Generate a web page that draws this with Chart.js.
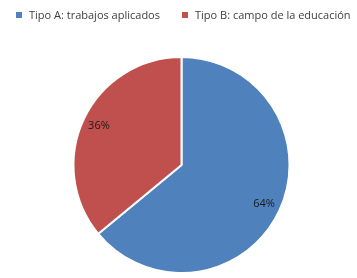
<!DOCTYPE html>
<html>
<head>
<meta charset="utf-8">
<script src="https://cdn.jsdelivr.net/npm/chart.js@4.4.1/dist/chart.umd.min.js"></script>
<style>
  html, body { margin: 0; padding: 0; background: #fff; }
  #wrap { position: relative; width: 357px; height: 278px; overflow: hidden; }
  #legend { position: absolute; left: 16px; top: 8px; display: flex; align-items: center;
            font: 11px 'Open Sans', sans-serif; line-height: 14px; color: #404040; white-space: nowrap; }
  #legend .item { display: flex; align-items: center; margin-right: 22px; }
  #legend .box { width: 6px; height: 6px; margin-right: 7px; }
</style>
</head>
<body>
<div id="wrap">
  <canvas id="pieChart" width="357" height="278"></canvas>
  <div id="legend"></div>
</div>
<script>
const categories = ["Tipo A: trabajos aplicados", "Tipo B: campo de la educación"];
const percentages = [64, 36];
const sliceColors = ["#4F81BD", "#C0504D"];

// legend built from the same arrays as the chart
const legendEl = document.getElementById("legend");
categories.forEach((name, i) => {
    legendEl.innerHTML += `<span class="item"><span class="box" style="background:${sliceColors[i]}"></span>${name}</span>`;
});

const sliceLabels = {
    id: "sliceLabels",
    afterDatasetsDraw(chart) {
        const ctx = chart.ctx;
        const meta = chart.getDatasetMeta(0);
        ctx.save();
        ctx.font = "11px 'Open Sans'";
        ctx.fillStyle = "#1a1a1a";
        ctx.textAlign = "center";
        ctx.textBaseline = "middle";
        meta.data.forEach((arc, i) => {
            const p = arc.getProps(["x", "y", "startAngle", "endAngle", "outerRadius"], true);
            const mid = (p.startAngle + p.endAngle) / 2;
            const r = p.outerRadius * 0.845;
            ctx.fillText(percentages[i] + "%", p.x + Math.cos(mid) * r, p.y + Math.sin(mid) * r);
        });
        ctx.restore();
    }
};

new Chart(document.getElementById("pieChart"), {
    type: "pie",
    data: {
        labels: categories,
        datasets: [{
            data: percentages,
            backgroundColor: sliceColors,
            borderColor: "#ffffff",
            borderWidth: 2
        }]
    },
    options: {
        responsive: false,
        animation: false,
        layout: { padding: { top: 56, left: 6, bottom: 4 } },
        plugins: {
            legend: { display: false },
            tooltip: { enabled: false }
        }
    },
    plugins: [sliceLabels]
});
</script>
</body>
</html>
